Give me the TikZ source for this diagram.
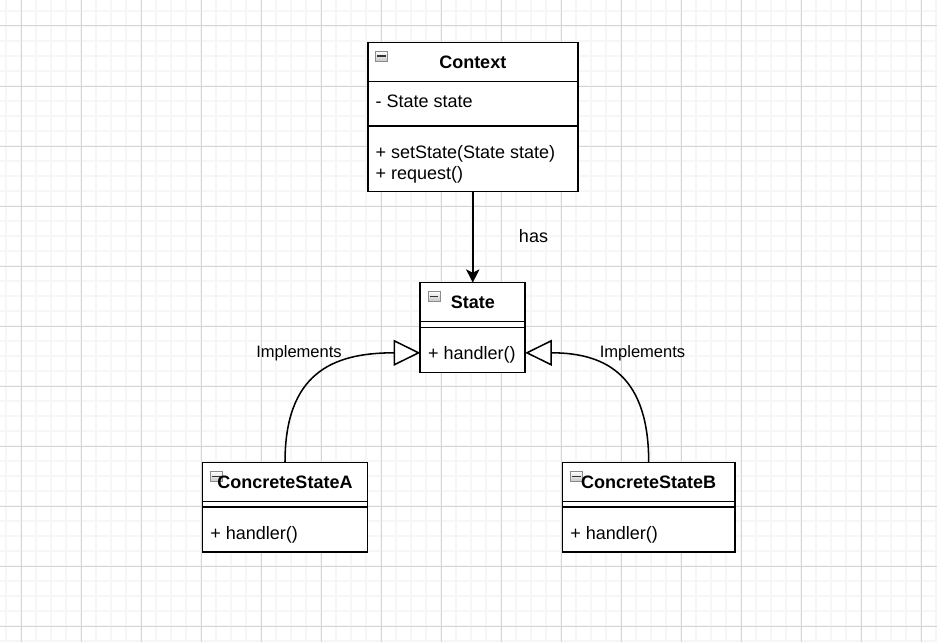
\documentclass[tikz,border=0pt]{standalone}
\usepackage{fontspec}
\setmainfont{Liberation Sans}
\usetikzlibrary{arrows.meta,calc,positioning}
\definecolor{GridMinor}{rgb}{0.965,0.965,0.965}
\definecolor{GridMajor}{rgb}{0.84,0.84,0.84}
\definecolor{IconClr}{rgb}{0.55,0.55,0.55}

\begin{document}
\begin{tikzpicture}[x=0.75pt,y=-0.75pt,
  compart/.style={draw=black,line width=1.15pt,fill=white,outer sep=0pt,inner sep=0pt},
  classname/.style={font=\fontsize{13.5}{16}\selectfont\bfseries,inner sep=0pt,anchor=base},
  member/.style={font=\fontsize{13.5}{16}\selectfont,inner sep=0pt,anchor=base west},
  haslabel/.style={font=\fontsize{13.5}{16}\selectfont,inner sep=0pt,anchor=base},
  implabel/.style={font=\fontsize{12.4}{15}\selectfont,inner sep=0pt,anchor=base},
  foldicon/.style={draw=IconClr,line width=0.6pt,top color=white,bottom color=gray!45,
    minimum width=9pt,minimum height=7.5pt,inner sep=0pt,anchor=north west,
    path picture={\draw[line width=1.1pt,black!80]
      ([xshift=1.3pt]path picture bounding box.west) -- ([xshift=-1.3pt]path picture bounding box.east);}},
  hasarrow/.style={line width=1.15pt,-{Stealth[length=10pt,width=10pt,inset=2.5pt]}},
  realize/.style={line width=1.15pt,-{Triangle[fill=white,length=20pt,width=19.5pt]}}
]
\useasboundingbox (0,0) rectangle (937,642);
\fill[white] (0,0) rectangle (937,642);

% grid
\foreach \gx in {6,21,...,936} \draw[GridMinor,line width=1.1pt] (\gx,0) -- (\gx,642);
\foreach \gy in {11,26,...,641} \draw[GridMinor,line width=1.1pt] (0,\gy) -- (937,\gy);
\foreach \gx in {21,81,...,921} \draw[GridMajor,line width=0.75pt] (\gx,0) -- (\gx,642);
\foreach \gy in {26,86,...,626} \draw[GridMajor,line width=0.75pt] (0,\gy) -- (937,\gy);

% Context
\node[compart,minimum width=157.5pt,minimum height=29.5pt] (ctxhead) at (472.75,62) {};
\node[compart,minimum width=157.5pt,minimum height=33.2pt,below=0pt of ctxhead] (ctxattr) {};
\node[compart,minimum width=157.5pt,minimum height=49.3pt,below=0pt of ctxattr] (ctxops) {};
\node[foldicon] (ctxicon) at ($(ctxhead.north west)+(7.5,8.5)$) {};
\node[classname] (ctxname) at ($(ctxhead.north)+(0,26.5)$) {Context};
\node[member] (ctxfield) at ($(ctxattr.north west)+(7.5,25.8)$) {- State state};
\node[member] (ctxop1) at ($(ctxops.north west)+(7.5,32.3)$) {+ setState(State state)};
\node[member] (ctxop2) at ($(ctxops.north west)+(7.5,53.5)$) {+ request()};

% State
\node[compart,minimum width=78.75pt,minimum height=29.25pt] (statehead) at (472.75,302.2) {};
\node[compart,minimum width=78.75pt,minimum height=4.2pt,below=0pt of statehead] (statefields) {};
\node[compart,minimum width=78.75pt,minimum height=33.75pt,below=0pt of statefields] (stateops) {};
\node[foldicon] (stateicon) at ($(statehead.north west)+(7.5,8.3)$) {};
\node[classname] (statename) at ($(statehead.north)+(0,26)$) {State};
\node[member] (stateop) at ($(stateops.north west)+(7.5,32)$) {+ handler()};

% ConcreteStateA
\node[compart,minimum width=124pt,minimum height=29.5pt] (csahead) at (285,482) {};
\node[compart,minimum width=124pt,minimum height=3.9pt,below=0pt of csahead] (csafields) {};
\node[compart,minimum width=124pt,minimum height=34pt,below=0pt of csafields] (csaops) {};
\node[foldicon] (csaicon) at ($(csahead.north west)+(7.5,9)$) {};
\node[classname] (csaname) at ($(csahead.north)+(0,26)$) {ConcreteStateA};
\node[member] (csaop) at ($(csaops.north west)+(7.8,33)$) {+ handler()};

% ConcreteStateB
\node[compart,minimum width=129.5pt,minimum height=29.5pt] (csbhead) at (648.7,482) {};
\node[compart,minimum width=129.5pt,minimum height=3.9pt,below=0pt of csbhead] (csbfields) {};
\node[compart,minimum width=129.5pt,minimum height=34pt,below=0pt of csbfields] (csbops) {};
\node[foldicon] (csbicon) at ($(csbhead.north west)+(7.5,9)$) {};
\node[classname] (csbname) at ($(csbhead.north)+(0,26)$) {ConcreteStateB};
\node[member] (csbop) at ($(csbops.north west)+(7.8,33)$) {+ handler()};

% relations
\draw[hasarrow] (ctxops.south) -- (statehead.north);
\draw[realize] (csahead.north) to[out=90,in=180,looseness=1.3] ([yshift=-2.25pt]stateops.west);
\draw[realize] (csbhead.north) to[out=90,in=0,looseness=1.3] ([yshift=-2.25pt]stateops.east);

\node[haslabel] (hastext) at (533.5,242.3) {has};
\node[implabel] (impla) at (299,357.3) {Implements};
\node[implabel] (implb) at (642.5,357.3) {Implements};

\end{tikzpicture}
\end{document}
